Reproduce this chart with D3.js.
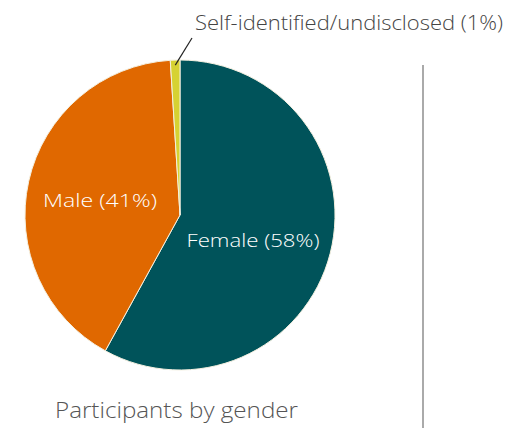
<!DOCTYPE html>
<html>
<head>
<style>
body { margin: 0; background: #fff; }
svg text { font-family: "Open Sans", sans-serif; font-weight: 300; }
</style>
<script src="https://d3js.org/d3.v7.min.js"></script>
</head>
<body>
<svg id="chart" width="510" height="428"></svg>
<script>
const categories = ["Female", "Male", "Self-identified/undisclosed"];
const values = [58, 41, 1];
const colors = ["#00535a", "#e06800", "#d6d232"];
const title = "Participants by gender";

const svg = d3.select("#chart");
const cx = 180, cy = 215, r = 155;

const pie = d3.pie().sort(null).value(d => d.value);
const arcs = pie(categories.map((c, i) => ({ name: c, value: values[i], color: colors[i] })));
const arc = d3.arc().innerRadius(0).outerRadius(r);

const g = svg.append("g").attr("transform", `translate(${cx},${cy})`);
g.selectAll("path")
  .data(arcs)
  .enter().append("path")
  .attr("d", arc)
  .attr("fill", d => d.data.color)
  .attr("stroke", "#f4f0e0")
  .attr("stroke-width", 1);

// inside labels
const labelPos = [[73, 32], [-80, -8]];
const labelLen = [133, 114];
arcs.slice(0, 2).forEach((d, i) => {
  g.append("text")
    .attr("x", labelPos[i][0])
    .attr("y", labelPos[i][1])
    .attr("text-anchor", "middle")
    .attr("fill", "#fff")
    .attr("font-size", 19)
    .attr("textLength", labelLen[i])
    .attr("lengthAdjust", "spacingAndGlyphs")
    .text(`${d.data.name} (${d.data.value}%)`);
});

// outside label with leader line
const small = arcs[2];
const mid = (small.startAngle + small.endAngle) / 2;
const p0 = [Math.sin(mid) * (r - 5), -Math.cos(mid) * (r - 5)];
g.append("line")
  .attr("x1", p0[0]).attr("y1", p0[1])
  .attr("x2", 12).attr("y2", -177)
  .attr("stroke", "#222").attr("stroke-width", 1.2);
g.append("text")
  .attr("x", 15)
  .attr("y", -185)
  .attr("fill", "#444")
  .attr("font-size", 20)
  .attr("textLength", 308)
  .attr("lengthAdjust", "spacingAndGlyphs")
  .text(`${small.data.name} (${small.data.value}%)`);

// divider
svg.append("line")
  .attr("x1", 423).attr("x2", 423)
  .attr("y1", 65).attr("y2", 428)
  .attr("stroke", "#aaa").attr("stroke-width", 2);

svg.append("text")
  .attr("x", 55)
  .attr("y", 418)
  .attr("fill", "#555")
  .attr("font-size", 22)
  .attr("textLength", 243)
  .attr("lengthAdjust", "spacingAndGlyphs")
  .text(title);
</script>
</body>
</html>
